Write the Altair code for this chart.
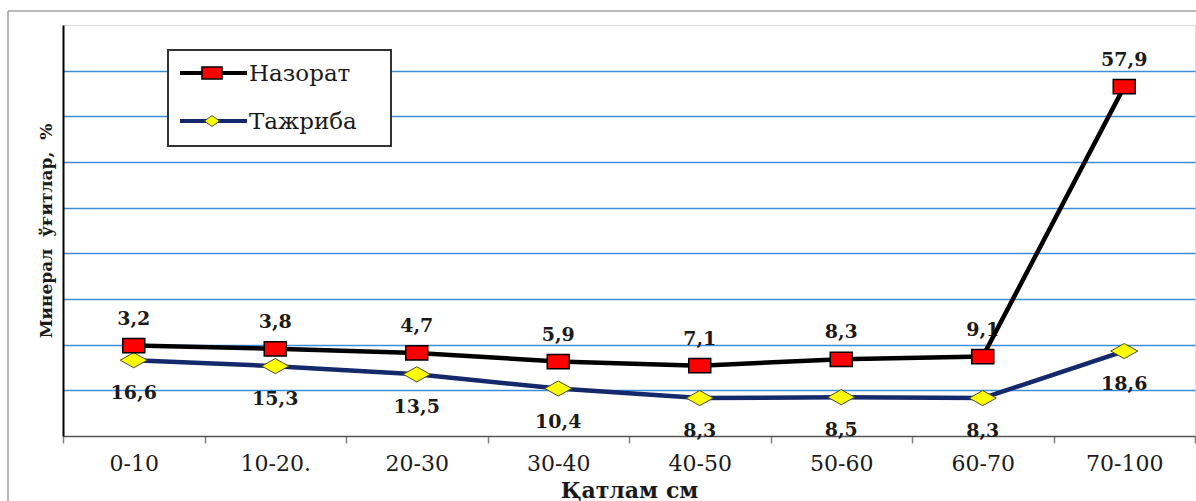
import altair as alt
import pandas as pd

# Soil layer depths and mineral fertilizer shares (%)
depths = ["0-10", "10-20.", "20-30", "30-40", "40-50", "50-60", "60-70", "70-100"]
nazorat = [3.2, 3.8, 4.7, 5.9, 7.1, 8.3, 9.1, 57.9]
tajriba = [16.6, 15.3, 13.5, 10.4, 8.3, 8.5, 8.3, 18.6]
series_names = ["Назорат", "Тажриба"]
series_colors = ["#000000", "#13296b"]
grid_values = [10, 20, 30, 40, 50, 60, 70, 80]

rows = []
for i, d in enumerate(depths):
    rows.append({"depth": d, "series": "Тажриба", "rank": 0, "value": tajriba[i]})
    rows.append({"depth": d, "series": "Назорат", "rank": 1, "value": nazorat[i]})
df = pd.DataFrame(rows)

W, H = 1132, 411
SERIF = "DejaVu Serif"
TXT = "#1a1a1a"

# stacked: Назорат sits on top of Тажриба
base = (
    alt.Chart(df)
    .transform_window(top="sum(value)", groupby=["depth"],
                      sort=[alt.SortField("rank")], frame=[None, 0])
    .transform_calculate(label="replace(format(datum.value, '.1f'), '.', ',')")
)

x_enc = alt.X(
    "depth:N", sort=depths,
    scale=alt.Scale(type="band", paddingInner=0, paddingOuter=0),
    axis=alt.Axis(
        title="Қатлам см", titleFont=SERIF, titleFontSize=22, titleFontWeight="bold",
        titleColor=TXT, titleX=W / 2, titleY=61, titleBaseline="alphabetic",
        titleAlign="center",
        labelFont=SERIF, labelFontSize=22, labelColor=TXT, labelAngle=0,
        labelBaseline="alphabetic", labelPadding=27,
        tickBand="extent", tickSize=7, tickColor="#808080", tickWidth=1.5,
        domainColor="#555555", domainWidth=1.5, grid=False,
    ),
)
y_title = "Минерал\u00a0\u00a0ўғитлар,\u00a0\u00a0%"
y_enc = alt.Y(
    "top:Q",
    scale=alt.Scale(domain=[0, 90], nice=False, zero=True),
    axis=alt.Axis(
        values=grid_values, labels=False, ticks=False,
        grid=True, gridColor="#3d8ed6", gridWidth=1.6,
        domainColor="#000000", domainWidth=2,
        title=y_title, titleFont=SERIF, titleFontSize=17, titleFontWeight="bold",
        titleColor=TXT, titleAngle=270, titleX=-12, titleY=H / 2,
        titleBaseline="alphabetic", titleAlign="center",
    ),
)

lines = base.mark_line(strokeWidth=4.5).encode(
    x=x_enc, y=y_enc,
    color=alt.Color("series:N", scale=alt.Scale(domain=series_names, range=series_colors),
                    legend=None),
)

square_path = "M-1,-0.65L1,-0.65L1,0.65L-1,0.65Z"
diamond_path = "M-1,0L0,-0.56L1,0L0,0.56Z"

pts_n = base.transform_filter("datum.series == 'Назорат'").mark_point(
    shape=square_path, size=484, filled=True, fill="#ff0000", stroke="#000000",
    strokeWidth=1.5, opacity=1,
).encode(x=x_enc, y=y_enc)
pts_t = base.transform_filter("datum.series == 'Тажриба'").mark_point(
    shape=diamond_path, size=729, filled=True, fill="#ffff00", stroke="#4a4a2a",
    strokeWidth=1, opacity=1,
).encode(x=x_enc, y=y_enc)

lab_n = base.transform_filter("datum.series == 'Назорат'").mark_text(
    font=SERIF, fontSize=19, fontWeight="bold", color=TXT, dy=-21,
    baseline="alphabetic", align="center",
).encode(x=x_enc, y=y_enc, text="label:N")
lab_t = base.transform_filter("datum.series == 'Тажриба'").mark_text(
    font=SERIF, fontSize=19, fontWeight="bold", color=TXT, dy=39,
    baseline="alphabetic", align="center",
).encode(x=x_enc, y=y_enc, text="label:N")

# legend panel
one = alt.Chart(pd.DataFrame({"k": [0]}))
leg_box = one.mark_rect(fill="white", stroke="#333333", strokeWidth=2).encode(
    x=alt.value(105), x2=alt.value(328), y=alt.value(25), y2=alt.value(121))
legend_layers = [leg_box]
leg_shapes = [
    ("M-1,-0.6L1,-0.6L1,0.6L-1,0.6Z", 400, "#ff0000", "#000000", 1.5),
    ("M-1,0L0,-0.73L1,0L0,0.73Z", 225, "#ffff00", "#4a4a2a", 1),
]
for i, name in enumerate(series_names):
    yy = 48 + 48 * i
    shape, sz, fill, stroke, sw = leg_shapes[i]
    legend_layers.append(one.mark_rule(color=series_colors[i], strokeWidth=4).encode(
        x=alt.value(117), x2=alt.value(184), y=alt.value(yy)))
    legend_layers.append(one.mark_point(shape=shape, size=sz, filled=True, fill=fill,
                                        stroke=stroke, strokeWidth=sw, opacity=1).encode(
        x=alt.value(149), y=alt.value(yy)))
    legend_layers.append(one.mark_text(font=SERIF, fontSize=23, color=TXT, align="left",
                                       baseline="middle", dy=1).encode(
        x=alt.value(186), y=alt.value(yy), text=alt.value(name)))

# outer frame
frame_top = one.mark_rule(color="#a0a0a0", strokeWidth=1.5).encode(
    x=alt.value(-55), x2=alt.value(W + 1), y=alt.value(-14))
frame_left = one.mark_rule(color="#a0a0a0", strokeWidth=1.5).encode(
    x=alt.value(-55), y=alt.value(-14), y2=alt.value(H + 65))

chart = alt.layer(
    lab_n, lab_t, lines, pts_t, pts_n, *legend_layers, frame_top, frame_left
).properties(
    width=W, height=H,
    autosize=alt.AutoSizeParams(type="none"),
    padding={"left": 63, "top": 25, "right": 1, "bottom": 65},
).configure_view(stroke="#333333", strokeWidth=2).configure(background="white")

chart.save("out.html", embed_options={"renderer": "svg", "actions": False})
